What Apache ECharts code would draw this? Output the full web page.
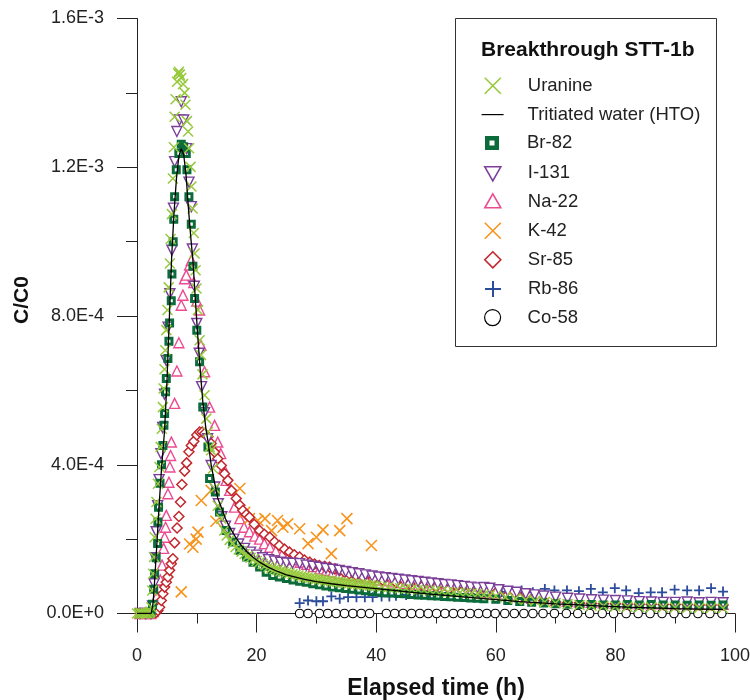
<!DOCTYPE html>
<html>
<head>
<meta charset="utf-8">
<script src="https://cdn.jsdelivr.net/npm/echarts@6/dist/echarts.min.js"></script>
<style>
  html, body { margin: 0; padding: 0; background: #fff; }
  #chart { width: 750px; height: 700px; }
</style>
</head>
<body>
<div id="chart"></div>
<script>
// Breakthrough curves of test STT-1b: relative concentration C/C0 versus elapsed time (h)

const legendNames = ['Uranine', 'Tritiated water (HTO)', 'Br-82', 'I-131', 'Na-22', 'K-42', 'Sr-85', 'Rb-86', 'Co-58'];
const chartTitle = 'Breakthrough STT-1b';
const xTitle = 'Elapsed time (h)';
const yTitle = 'C/C0';

// [elapsed time (h), C/C0]
const uranine = [
  [0.0, 0], [0.3, 0], [0.6, 1e-6], [0.9, 0], [1.2, 0], [1.5, 1e-6], [1.8, 0], [2.1, 2e-6],
  [2.25, 5e-6], [2.4, 1.7e-5], [2.55, 6.2e-5], [2.7, 1.07e-4], [2.85, 1.52e-4], [2.95, 2.05e-4],
  [3.1, 2.55e-4], [3.25, 3.0e-4], [3.5, 3.49e-4], [3.75, 3.94e-4], [3.95, 4.48e-4], [4.15, 4.97e-4],
  [4.33, 5.55e-4], [4.45, 6.05e-4], [4.6, 6.57e-4], [4.73, 7.08e-4], [4.9, 7.62e-4], [5.1, 8.16e-4],
  [5.3, 8.77e-4], [5.5, 9.41e-4], [5.62, 1.007e-3], [5.84, 1.074e-3], [6.0, 1.17e-3], [6.17, 1.254e-3],
  [6.29, 1.336e-3], [6.45, 1.383e-3], [6.7, 1.43e-3], [6.9, 1.452e-3], [7.0, 1.457e-3], [7.15, 1.449e-3],
  [7.4, 1.44e-3], [7.7, 1.424e-3], [7.96, 1.40e-3], [8.1, 1.368e-3], [8.35, 1.324e-3], [8.55, 1.296e-3],
  [8.7, 1.251e-3], [8.95, 1.201e-3], [9.1, 1.148e-3], [9.3, 1.089e-3], [9.5, 1.023e-3], [9.63, 9.68e-4],
  [9.8, 9.23e-4], [9.95, 8.74e-4], [10.2, 8.16e-4], [10.47, 7.35e-4], [10.7, 6.95e-4], [10.95, 6.43e-4],
  [11.3, 5.87e-4], [11.6, 5.24e-4], [11.86, 4.88e-4], [12.14, 4.48e-4], [12.4, 4.39e-4], [12.7, 3.9e-4],
  [13.0, 3.37e-4], [13.5, 2.9e-4], [14.1, 2.55e-4], [14.6, 2.23e-4], [15.0, 2.1e-4], [15.5, 1.98e-4],
  [16.0, 1.88e-4], [16.5, 1.79e-4], [17.0, 1.72e-4], [17.5, 1.66e-4], [18.0, 1.6e-4], [18.5, 1.55e-4],
  [19.0, 1.5e-4], [19.5, 1.46e-4], [20.0, 1.41e-4], [20.5, 1.38e-4], [21.0, 1.33e-4], [21.5, 1.3e-4],
  [22.0, 1.25e-4], [22.5, 1.22e-4], [23.0, 1.19e-4], [23.5, 1.17e-4], [24.0, 1.14e-4], [24.5, 1.12e-4],
  [25.0, 1.1e-4], [25.5, 1.08e-4], [26.0, 1.06e-4], [26.5, 1.04e-4], [27.0, 1.02e-4], [27.5, 1.0e-4],
  [28.0, 9.9e-5], [28.5, 9.7e-5], [29.0, 9.6e-5], [29.5, 9.4e-5], [30.0, 9.3e-5], [30.5, 9.2e-5],
  [31.0, 9.0e-5], [31.5, 8.9e-5], [32.0, 8.8e-5], [32.5, 8.7e-5], [33.0, 8.6e-5], [33.5, 8.5e-5],
  [34.0, 8.4e-5], [34.5, 8.3e-5], [35.0, 8.2e-5], [35.5, 8.1e-5], [36.0, 8.0e-5], [36.5, 7.9e-5],
  [37.0, 7.8e-5], [37.5, 7.8e-5], [38.0, 7.7e-5], [38.5, 7.6e-5], [39.0, 7.5e-5], [39.5, 7.5e-5],
  [40, 7.4e-5], [41, 7.2e-5], [42, 7.1e-5], [43, 6.9e-5], [44, 6.8e-5], [45, 6.7e-5], [46, 6.5e-5],
  [47, 6.4e-5], [48, 6.3e-5], [49, 6.2e-5], [50, 6.1e-5], [51, 5.9e-5], [52, 5.8e-5], [53, 5.7e-5],
  [54, 5.6e-5], [55, 5.5e-5], [56, 5.4e-5], [57, 5.3e-5], [58, 5.1e-5], [59, 4.9e-5], [60, 4.7e-5],
  [61.6, 4.4e-5], [63.3, 4.0e-5], [65, 3.7e-5], [66.6, 3.4e-5], [68.2, 3.1e-5], [70, 2.8e-5],
  [72, 2.5e-5], [74, 2.3e-5], [76, 2.1e-5], [78, 2.0e-5], [80, 1.9e-5], [82, 1.8e-5], [84, 1.7e-5],
  [86, 1.7e-5], [88, 1.6e-5], [90, 1.6e-5], [92, 1.5e-5], [94, 1.5e-5], [96, 1.5e-5], [98, 1.4e-5]
];

const hto = [
  [0, 0], [1, 0], [2, 0], [2.4, 1e-6], [2.7, 3.0e-5], [2.95, 8.9e-5], [3.3, 1.8e-4], [3.7, 2.9e-4],
  [4.1, 3.9e-4], [4.6, 4.9e-4], [5.0, 6.2e-4], [5.4, 7.9e-4], [5.8, 9.6e-4], [6.2, 1.08e-3],
  [6.6, 1.17e-3], [7.0, 1.23e-3], [7.4, 1.25e-3], [7.8, 1.235e-3], [8.2, 1.18e-3], [8.6, 1.09e-3],
  [9.0, 1.01e-3], [9.35, 9.5e-4], [9.7, 8.6e-4], [10.1, 7.6e-4], [10.5, 6.7e-4], [11.0, 5.7e-4],
  [11.5, 5.0e-4], [11.9, 4.6e-4], [12.4, 4.0e-4], [13.0, 3.5e-4], [13.5, 3.1e-4], [14.1, 2.86e-4],
  [14.8, 2.55e-4], [15.5, 2.32e-4], [16.5, 2.05e-4], [17.5, 1.82e-4], [18.5, 1.64e-4], [19.5, 1.5e-4],
  [20.5, 1.38e-4], [22, 1.24e-4], [23.5, 1.13e-4], [25, 1.04e-4], [26.5, 9.8e-5], [28, 9.2e-5],
  [30, 8.6e-5], [32.5, 8.0e-5], [35, 7.5e-5], [37.5, 7.1e-5], [40, 6.7e-5], [43, 6.2e-5], [46, 5.7e-5],
  [49, 5.2e-5], [52, 4.8e-5], [55, 4.4e-5], [58, 4.0e-5], [61, 3.6e-5], [64, 3.2e-5], [67, 2.9e-5],
  [70, 2.6e-5], [74, 2.3e-5], [78, 2.0e-5], [82, 1.7e-5], [86, 1.5e-5], [90, 1.3e-5], [94, 1.2e-5],
  [98, 1.1e-5]
];

const br82 = [
  [0.5, 0], [1.2, 0], [1.9, 0], [2.4, 2e-6], [2.6, 2.5e-5], [2.8, 6.5e-5], [2.95, 1.07e-4], [3.2, 1.5e-4],
  [3.45, 1.88e-4], [3.5, 2.46e-4], [3.6, 2.86e-4], [3.85, 3.5e-4], [4.1, 4.0e-4], [4.33, 4.52e-4],
  [4.5, 5.06e-4], [4.62, 5.38e-4], [4.78, 5.96e-4], [4.9, 6.32e-4], [5.17, 6.86e-4], [5.34, 7.32e-4],
  [5.45, 7.81e-4], [5.73, 8.41e-4], [5.84, 9.13e-4], [6.05, 1.0e-3], [6.15, 1.06e-3], [6.29, 1.121e-3],
  [6.57, 1.193e-3], [7.0, 1.237e-3], [7.4, 1.262e-3], [7.8, 1.255e-3], [8.24, 1.237e-3], [8.35, 1.193e-3],
  [8.68, 1.121e-3], [9.08, 1.047e-3], [9.35, 9.34e-4], [9.63, 8.47e-4], [10.0, 7.62e-4], [10.47, 6.77e-4],
  [11.0, 5.55e-4], [11.86, 4.48e-4], [12.14, 3.63e-4], [13.1, 3.27e-4], [13.8, 2.73e-4], [14.9, 2.23e-4],
  [16.0, 1.92e-4], [17.2, 1.7e-4], [18.3, 1.52e-4], [19.4, 1.38e-4], [20.5, 1.25e-4], [21.6, 1.11e-4],
  [22.7, 1.02e-4], [23.8, 9.8e-5], [25.0, 9.4e-5], [26.1, 9.0e-5], [27.2, 8.7e-5], [28.3, 8.4e-5],
  [29.4, 8.0e-5], [30.5, 7.7e-5], [31.6, 7.4e-5], [32.7, 7.1e-5], [33.8, 6.9e-5], [34.9, 6.7e-5],
  [36.0, 6.5e-5], [37.1, 6.3e-5], [38.2, 6.1e-5], [39.3, 5.9e-5], [40.4, 5.8e-5], [41.5, 5.6e-5],
  [42.6, 5.5e-5], [43.7, 5.4e-5], [44.8, 5.3e-5], [45.9, 5.1e-5], [47.0, 5.0e-5], [48.1, 4.9e-5],
  [49.2, 4.8e-5], [50.3, 4.7e-5], [51.4, 4.6e-5], [52.5, 4.5e-5], [53.6, 4.4e-5], [54.7, 4.3e-5],
  [55.8, 4.2e-5], [56.9, 4.1e-5], [58, 4.0e-5], [60, 3.8e-5], [62, 3.5e-5], [64, 3.2e-5], [66, 3.0e-5],
  [68, 2.8e-5], [70, 2.6e-5], [72, 2.5e-5], [74, 2.4e-5], [76, 2.4e-5], [78, 2.3e-5], [80, 2.3e-5],
  [82, 2.4e-5], [84, 2.3e-5], [86, 2.4e-5], [88, 2.3e-5], [90, 2.3e-5], [92, 2.2e-5], [94, 2.3e-5],
  [96, 2.2e-5], [98, 2.3e-5]
];

const i131 = [
  [0.5, 0], [1.5, 0], [2.3, 0], [2.6, 2e-5], [2.85, 8e-5], [3.0, 1.5e-4], [3.2, 2.2e-4], [3.45, 2.9e-4],
  [3.7, 3.6e-4], [4.0, 4.3e-4], [4.3, 5.0e-4], [4.6, 5.9e-4], [4.9, 6.8e-4], [5.2, 7.7e-4], [5.5, 8.6e-4],
  [5.84, 9.77e-4], [6.1, 1.09e-3], [6.29, 1.215e-3], [6.67, 1.296e-3], [7.1, 1.327e-3], [7.4, 1.376e-3],
  [7.8, 1.327e-3], [8.3, 1.25e-3], [8.7, 1.16e-3], [9.08, 1.094e-3], [9.25, 9.8e-4], [9.6, 8.8e-4],
  [10.0, 7.8e-4], [10.4, 7.0e-4], [10.8, 6.1e-4], [11.3, 5.4e-4], [11.8, 4.7e-4], [12.4, 3.98e-4],
  [13.0, 3.4e-4], [13.6, 2.95e-4], [14.2, 2.6e-4], [14.8, 2.35e-4], [15.5, 2.15e-4], [16.2, 2.0e-4],
  [17, 1.87e-4], [18, 1.75e-4], [19, 1.65e-4], [20, 1.57e-4], [21, 1.5e-4], [22, 1.45e-4], [23, 1.41e-4],
  [24, 1.38e-4], [25, 1.36e-4], [26, 1.35e-4], [27.2, 1.34e-4], [28.3, 1.3e-4], [29.4, 1.27e-4],
  [30.5, 1.24e-4], [31.6, 1.21e-4], [32.7, 1.19e-4], [33.8, 1.16e-4], [34.9, 1.13e-4], [36, 1.1e-4],
  [37.1, 1.07e-4], [38.2, 1.04e-4], [39.3, 1.01e-4], [40.4, 9.8e-5], [41.5, 9.6e-5], [42.6, 9.4e-5],
  [43.7, 9.2e-5], [44.8, 9.0e-5], [45.9, 8.8e-5], [47, 8.6e-5], [48.1, 8.4e-5], [49.2, 8.2e-5],
  [50.3, 8.0e-5], [51.4, 7.8e-5], [52.5, 7.7e-5], [53.6, 7.5e-5], [54.7, 7.3e-5], [55.8, 7.1e-5],
  [56.9, 6.9e-5], [58, 7.0e-5], [59, 6.8e-5], [60.5, 6.4e-5], [62, 6.0e-5], [63.5, 5.7e-5], [65, 5.3e-5],
  [66.5, 5.0e-5], [68, 4.7e-5], [70, 4.4e-5], [72, 4.1e-5], [74, 3.9e-5], [76, 3.7e-5], [78, 3.6e-5],
  [80, 3.5e-5], [82, 3.4e-5], [84, 3.2e-5], [86, 3.1e-5], [88, 3.0e-5], [90, 3.0e-5], [92, 3.1e-5],
  [94, 2.9e-5], [96, 3.0e-5], [98, 2.9e-5]
];

const na22 = [
  [0.5, 0], [1.5, 0], [2.3, 0], [2.7, 5e-6], [3.0, 2.0e-5], [3.3, 4.5e-5], [3.6, 7e-5], [3.9, 9e-5],
  [4.2, 1.3e-4], [4.45, 1.75e-4], [4.62, 2.05e-4], [4.78, 2.32e-4], [4.9, 2.64e-4], [5.17, 3.22e-4],
  [5.34, 3.53e-4], [5.5, 3.94e-4], [5.62, 4.25e-4], [5.75, 4.61e-4], [6.29, 5.65e-4], [6.67, 6.52e-4],
  [7.0, 7.28e-4], [7.4, 8.29e-4], [7.68, 8.56e-4], [7.96, 9.0e-4], [8.24, 9.1e-4], [8.8, 9.37e-4],
  [9.08, 9.5e-4], [9.5, 8.9e-4], [10.0, 8.4e-4], [10.47, 8.16e-4], [10.7, 7.21e-4], [11.3, 6.5e-4],
  [12.14, 5.55e-4], [12.98, 5.06e-4], [13.5, 4.61e-4], [14.0, 4.3e-4], [14.5, 3.9e-4], [14.9, 3.58e-4],
  [15.5, 3.31e-4], [16.3, 2.86e-4], [17.2, 2.55e-4], [17.9, 2.32e-4], [18.8, 2.2e-4], [19.7, 2.08e-4],
  [20.5, 2.0e-4], [21.3, 1.88e-4], [22.2, 1.78e-4], [23.2, 1.68e-4], [24.3, 1.6e-4], [25.3, 1.52e-4],
  [26.3, 1.45e-4], [27.3, 1.38e-4], [28.4, 1.32e-4], [29.5, 1.26e-4], [30.6, 1.2e-4], [31.7, 1.16e-4],
  [32.8, 1.12e-4], [33.9, 1.08e-4], [35.0, 1.05e-4], [36.1, 1.02e-4], [37.2, 9.9e-5], [38.3, 9.6e-5],
  [39.4, 9.3e-5], [40.5, 9.0e-5], [41.6, 8.8e-5], [42.7, 8.5e-5], [43.8, 8.3e-5], [44.9, 8.1e-5],
  [46.0, 7.9e-5], [47.1, 7.7e-5], [48.2, 7.5e-5], [49.3, 7.3e-5], [50.4, 7.1e-5], [51.5, 6.9e-5],
  [52.6, 6.7e-5], [53.7, 6.5e-5], [54.8, 6.3e-5], [55.9, 6.1e-5], [57.0, 5.9e-5], [58.5, 5.7e-5],
  [60, 5.5e-5], [62, 5.0e-5], [64, 4.5e-5], [66, 4.1e-5], [68, 3.8e-5], [70, 3.5e-5], [72, 3.3e-5],
  [74, 3.1e-5], [76, 3.0e-5], [78, 2.9e-5], [80, 2.8e-5], [82, 2.7e-5], [84, 2.7e-5], [86, 2.6e-5],
  [88, 2.6e-5], [90, 2.5e-5], [92, 2.6e-5], [94, 2.5e-5], [96, 2.5e-5], [98, 2.5e-5]
];

const k42 = [
  [7.4, 5.8e-5], [8.8, 1.87e-4], [9.35, 1.78e-4], [9.9, 2.0e-4], [10.2, 2.19e-4], [10.75, 3.04e-4],
  [12.4, 3.31e-4], [13.2, 2.48e-4], [17.2, 3.36e-4], [18.0, 2.72e-4], [18.8, 2.55e-4], [20.2, 2.5e-4],
  [21.4, 2.55e-4], [22.5, 2.23e-4], [23.5, 2.5e-4], [24.4, 2.32e-4], [25.2, 2.41e-4], [27.2, 2.28e-4],
  [28.6, 1.88e-4], [30.0, 2.05e-4], [31.1, 2.25e-4], [32.5, 1.61e-4], [33.9, 2.23e-4], [35.1, 2.55e-4],
  [39.2, 1.83e-4]
];

const sr85 = [
  [0.5, 0], [1.5, 0], [2.5, 0], [3.2, 3e-6], [3.5, 8e-6], [3.78, 1.7e-5], [4.06, 3.5e-5], [4.33, 5.3e-5],
  [4.62, 7.1e-5], [4.9, 8.4e-5], [5.17, 9.8e-5], [5.45, 1.16e-4], [5.73, 1.34e-4], [6.0, 1.47e-4],
  [6.29, 1.9e-4], [6.7, 2.3e-4], [7.0, 2.61e-4], [7.27, 3.0e-4], [7.5, 3.47e-4], [7.96, 3.83e-4],
  [8.3, 4.05e-4], [8.68, 4.35e-4], [9.08, 4.52e-4], [9.5, 4.63e-4], [10.0, 4.8e-4], [10.47, 4.88e-4],
  [10.9, 4.88e-4], [11.3, 4.84e-4], [11.86, 4.75e-4], [12.4, 4.57e-4], [12.98, 4.34e-4], [13.5, 4.16e-4],
  [14.1, 3.98e-4], [14.65, 3.76e-4], [15.2, 3.58e-4], [15.8, 3.31e-4], [16.6, 3.09e-4], [17.2, 2.91e-4],
  [17.7, 2.77e-4], [18.3, 2.66e-4], [18.8, 2.59e-4], [19.6, 2.4e-4], [20.5, 2.23e-4], [21.3, 2.13e-4],
  [22.2, 2.05e-4], [23.0, 1.93e-4], [23.8, 1.83e-4], [24.7, 1.73e-4], [25.5, 1.65e-4], [26.3, 1.58e-4],
  [27.2, 1.52e-4], [28.0, 1.44e-4], [28.9, 1.38e-4], [29.7, 1.33e-4], [30.5, 1.29e-4], [31.4, 1.27e-4],
  [32.2, 1.25e-4], [33.1, 1.2e-4], [33.9, 1.16e-4], [34.7, 1.11e-4], [35.5, 1.07e-4], [36.6, 1.03e-4],
  [37.8, 9.8e-5], [39.5, 9.3e-5], [41.1, 8.9e-5], [43.3, 8.4e-5], [45.6, 8.0e-5], [47.8, 7.5e-5],
  [50, 7.1e-5], [52.2, 6.6e-5], [54.5, 6.2e-5], [56.7, 6.0e-5], [58.5, 5.8e-5], [60.1, 5.7e-5],
  [62, 5.0e-5], [64, 4.3e-5], [66, 3.8e-5], [68, 3.4e-5], [70, 3.1e-5], [72, 2.9e-5], [74, 2.8e-5],
  [76, 2.7e-5], [78, 2.6e-5], [80, 2.6e-5], [82, 2.5e-5], [84, 2.5e-5], [86, 2.5e-5], [88, 2.4e-5],
  [90, 2.4e-5], [92, 2.4e-5], [94, 2.3e-5], [96, 2.3e-5], [98, 2.3e-5]
];

const rb86 = [
  [27.2, 2.8e-5], [28.6, 3.5e-5], [30.0, 3.3e-5], [31.1, 3.3e-5], [32.5, 4.6e-5], [33.9, 4.0e-5],
  [35.3, 4.4e-5], [36.7, 4.4e-5], [38.1, 4.4e-5], [39.4, 4.4e-5], [40.9, 4.6e-5], [42.2, 4.6e-5],
  [43.3, 4.8e-5], [45, 5.0e-5], [47, 5.2e-5], [49, 5.0e-5], [51, 5.3e-5], [53, 5.4e-5], [55, 5.2e-5],
  [57, 5.6e-5], [59, 5.5e-5], [61, 5.8e-5], [64.3, 6.2e-5], [66.2, 5.7e-5], [68.2, 6.6e-5], [69.8, 6.2e-5],
  [71.9, 6.2e-5], [73.9, 6.0e-5], [75.9, 6.6e-5], [77.9, 5.7e-5], [79.9, 6.8e-5], [81.8, 6.2e-5],
  [83.9, 5.5e-5], [85.9, 5.7e-5], [87.8, 5.7e-5], [89.9, 6.4e-5], [92.0, 6.2e-5], [94.0, 6.2e-5],
  [96.0, 6.8e-5], [98.0, 5.9e-5]
];

const co58 = [
  [27.2, 0], [28.6, 0], [30.5, 0], [31.9, 0], [33.3, 0], [34.7, 0], [36.1, 0], [37.5, 0], [38.9, 0],
  [41.7, 0], [43.1, 0], [44.5, 0], [45.9, 0], [47.3, 0], [48.7, 0], [50.1, 0], [51.5, 0], [52.9, 0],
  [54.3, 0], [55.7, 0], [57.1, 0], [58.5, 0], [59.9, 0], [61.5, 0], [63.1, 0], [64.7, 0], [66.2, 0],
  [67.9, 0], [69.8, 0], [71.8, 0], [73.7, 0], [75.7, 0], [77.8, 0], [79.7, 0], [81.8, 0], [83.8, 0],
  [85.8, 0], [87.8, 0], [89.8, 0], [91.8, 0], [93.8, 0], [95.8, 0], [97.8, 0]
];

const FONT = '"Liberation Sans", Arial, Helvetica, sans-serif';
const colors = {
  uranine: '#97c93d', hto: '#000000', br: '#0b6b3a', i: '#7b3f99', na: '#eb4b91',
  k: '#f7941d', sr: '#c1272d', rb: '#2b4c9b', co: '#000000'
};

// marker shapes for the plot area
const X_MARK = 'path://M0,0L10,10M10,0L0,10';
const PLUS_MARK = 'path://M5,0V10M0,5H10';
const SQUARE_MARK = 'path://M0,0H10V10H0Z M3.3,3.3V6.7H6.7V3.3Z';

// legend icons share a 60 x 20 frame so the labels line up
const ICON = {
  x: 'path://M0,0M60,20M22,2L38,18M38,2L22,18',
  line: 'path://M0,0M60,20M19,10L41,10',
  square: 'path://M0,0M60,20M23,3H37V17H23Z M27.5,7.5V12.5H32.5V7.5Z',
  triDown: 'path://M0,0M60,20M22,4H38L30,18Z',
  triUp: 'path://M0,0M60,20M30,2L38,16H22Z',
  diamond: 'path://M0,0M60,20M30,2L38,10L30,18L22,10Z',
  plus: 'path://M0,0M60,20M30,2V18M22,10H38',
  circle: 'path://M0,0M60,20M38,10A8,8 0 1 1 22,10A8,8 0 1 1 38,10Z'
};

// one legend row per entry: icon, fill, stroke, stroke width
// (line-only icons get a fill too; it has no area, but keeps the icon box the same size)
const legendRows = [
  [ICON.x, colors.uranine, colors.uranine, 1.6],
  [ICON.line, colors.hto, colors.hto, 1.2],
  [ICON.square, colors.br, colors.br, 0],
  [ICON.triDown, '#fff', colors.i, 1.6],
  [ICON.triUp, '#fff', colors.na, 1.6],
  [ICON.x, colors.k, colors.k, 1.6],
  [ICON.diamond, '#fff', colors.sr, 1.6],
  [ICON.plus, colors.rb, colors.rb, 2],
  [ICON.circle, '#fff', colors.co, 1.2]
];
const LEGEND_FIRST_CENTER = 85;
const LEGEND_STEP = 29;

const legends = legendNames.map(function (name, i) {
  const row = legendRows[i];
  return {
    orient: 'vertical',
    left: 462,
    top: LEGEND_FIRST_CENTER + LEGEND_STEP * i - 10,
    padding: 0,
    itemWidth: 60,
    itemHeight: 20,
    selectedMode: false,
    textStyle: { fontFamily: FONT, fontSize: 18.5, color: '#222', lineHeight: 20 },
    data: [{
      name: name,
      icon: row[0],
      itemStyle: { color: row[1], borderColor: row[2], borderWidth: row[3] }
    }]
  };
});

const chart = echarts.init(document.getElementById('chart'), null, { renderer: 'canvas' });

function scatter(name, data, symbol, size, fill, stroke, width, extra) {
  return Object.assign({
    name: name,
    type: 'scatter',
    data: data,
    symbol: symbol,
    symbolSize: size,
    itemStyle: { color: fill, borderColor: stroke, borderWidth: width, opacity: 1 },
    emphasis: { disabled: true },
    animation: false
  }, extra || {});
}

const option = {
  animation: false,
  backgroundColor: '#ffffff',
  textStyle: { fontFamily: FONT },
  title: {
    text: chartTitle,
    left: 481,
    top: 40,
    padding: 0,
    textStyle: { fontFamily: FONT, fontSize: 21, fontWeight: 'bold', color: '#111' }
  },
  graphic: [{
    type: 'rect',
    shape: { x: 455.5, y: 18.5, width: 261, height: 328 },
    style: { fill: 'none', stroke: '#333', lineWidth: 1 },
    silent: true,
    z: 0
  }],
  legend: legends,
  grid: {
    left: 137,
    top: 18.5,
    width: 598,
    height: 595,
    containLabel: false,
    outerBoundsMode: 'none'
  },
  xAxis: {
    type: 'value',
    min: 0,
    max: 100,
    interval: 20,
    name: xTitle,
    nameLocation: 'middle',
    nameGap: 64,
    nameTextStyle: { fontFamily: FONT, fontSize: 23, fontWeight: 'bold', color: '#111' },
    axisLine: { show: true, onZero: false, lineStyle: { color: '#222', width: 1 } },
    axisTick: { show: true, inside: false, length: 19, lineStyle: { color: '#222', width: 1 } },
    minorTick: { show: true, splitNumber: 2, length: 10, lineStyle: { color: '#222', width: 1 } },
    splitLine: { show: false },
    minorSplitLine: { show: false },
    axisLabel: { fontFamily: FONT, fontSize: 18, color: '#222', margin: 34, showMinLabel: true, showMaxLabel: true, hideOverlap: false }
  },
  yAxis: {
    type: 'value',
    min: 0,
    max: 1.6e-3,
    interval: 4e-4,
    name: yTitle,
    nameLocation: 'middle',
    nameGap: 104,
    nameRotate: 90,
    nameTextStyle: { fontFamily: FONT, fontSize: 21, fontWeight: 'bold', color: '#111', padding: [0, 0, 0, 32] },
    axisLine: { show: true, onZero: false, lineStyle: { color: '#222', width: 1 } },
    axisTick: { show: true, inside: false, length: 20, lineStyle: { color: '#222', width: 1 } },
    minorTick: { show: true, splitNumber: 2, length: 11, lineStyle: { color: '#222', width: 1 } },
    splitLine: { show: false },
    minorSplitLine: { show: false },
    axisLabel: {
      fontFamily: FONT, fontSize: 18, color: '#222', margin: 33, showMinLabel: true, showMaxLabel: true, hideOverlap: false,
      formatter: function (v) { return v.toExponential(1).toUpperCase(); }
    }
  },
  series: [
    scatter(legendNames[8], co58, 'circle', 8.5, '#fff', colors.co, 1.1),
    scatter(legendNames[7], rb86, PLUS_MARK, 10, colors.rb, colors.rb, 1.8),
    scatter(legendNames[4], na22, 'triangle', 10, '#fff', colors.na, 1.4),
    scatter(legendNames[5], k42, X_MARK, 11, colors.k, colors.k, 1.6),
    scatter(legendNames[6], sr85, 'diamond', 10, '#fff', colors.sr, 1.5),
    scatter(legendNames[3], i131, 'triangle', 10, '#fff', colors.i, 1.4, { symbolRotate: 180 }),
    scatter(legendNames[2], br82, SQUARE_MARK, 9, colors.br, colors.br, 0),
    {
      name: legendNames[1],
      type: 'line',
      data: hto,
      showSymbol: false,
      symbol: 'none',
      smooth: false,
      lineStyle: { color: colors.hto, width: 1.3 },
      itemStyle: { color: colors.hto },
      emphasis: { disabled: true },
      animation: false
    },
    scatter(legendNames[0], uranine, X_MARK, 10, colors.uranine, colors.uranine, 1.5)
  ]
};

chart.setOption(option);
</script>
</body>
</html>
